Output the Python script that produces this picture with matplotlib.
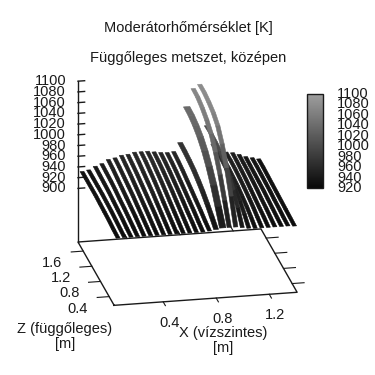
import numpy as np
import matplotlib
matplotlib.use('Agg')
import matplotlib.pyplot as plt
from matplotlib.colors import LinearSegmentedColormap, Normalize
from matplotlib.cm import ScalarMappable
from mpl_toolkits.mplot3d import proj3d
from mpl_toolkits.mplot3d.art3d import Poly3DCollection

plt.rcParams['font.family'] = ['Liberation Sans', 'DejaVu Sans']

# data
x_lim = (0.03, 1.41)
z_lim = (0.17, 1.84)
t_lim = (800, 1100)
t_ticks = [900, 920, 940, 960, 980, 1000, 1020, 1040, 1060, 1080, 1100]
x_ticks = [0.4, 0.8, 1.2]
z_ticks = [0.4, 0.8, 1.2, 1.6]
cb_ticks = [920, 940, 960, 980, 1000, 1020, 1040, 1060, 1080, 1100]

z_levels = [0.17, 0.38, 0.59, 0.80, 1.00, 1.21, 1.42, 1.63, 1.84]
strip_x = [0.06, 0.109, 0.159, 0.208, 0.257, 0.307, 0.356, 0.405, 0.454, 0.504,
           0.553, 0.602, 0.652, 0.701, 0.75, 0.799, 0.849, 0.898, 0.947, 0.997,
           1.046, 1.095, 1.145, 1.194, 1.243, 1.293, 1.342, 1.391]
strip_w = [0.0145] * 15 + [0.018, 0.024] + [0.016] * 2 + [0.0145] * 9
strip_t = [
    [925, 926, 928, 929, 930, 931, 931, 931, 931],
    [925, 927, 929, 931, 932, 933, 933, 933, 933],
    [925, 927, 930, 932, 934, 936, 937, 938, 939],
    [925, 928, 931, 934, 936, 939, 941, 942, 943],
    [925, 929, 933, 936, 939, 942, 945, 948, 950],
    [925, 929, 933, 937, 941, 944, 947, 950, 952],
    [925, 929, 934, 938, 942, 946, 950, 953, 956],
    [925, 930, 935, 939, 943, 947, 951, 954, 957],
    [925, 930, 935, 940, 945, 949, 953, 957, 960],
    [925, 930, 935, 940, 945, 950, 954, 958, 960],
    [925, 930, 935, 940, 945, 950, 954, 958, 960],
    [925, 930, 935, 940, 945, 949, 953, 956, 958],
    [925, 930, 934, 939, 943, 947, 951, 954, 956],
    [925, 929, 934, 938, 942, 946, 950, 953, 955],
    [926, 930, 935, 939, 943, 947, 951, 954, 956],
    [928, 938, 947, 955, 961, 966, 969, 971, 972],
    [930, 955, 980, 1000, 1015, 1026, 1033, 1037, 1038],
    [930, 965, 998, 1025, 1045, 1057, 1065, 1070, 1071],
    [930, 972, 1010, 1040, 1060, 1070, 1075, 1078, 1078],
    [928, 950, 968, 982, 992, 998, 1000, 1001, 1000],
    [926, 938, 948, 955, 960, 963, 965, 965, 965],
    [925, 932, 938, 942, 946, 948, 950, 950, 950],
    [925, 930, 935, 939, 942, 945, 947, 948, 948],
    [925, 929, 932, 935, 938, 941, 943, 945, 946],
    [925, 928, 931, 933, 936, 938, 940, 941, 942],
    [925, 927, 929, 931, 933, 934, 935, 936, 937],
    [925, 926, 928, 929, 931, 932, 933, 934, 934],
    [924, 925, 926, 927, 928, 929, 930, 931, 931],
]

SIZE = 375
FS = 10.5
INK = '#1a1a1a'


def px_text(x, y, s, ha='center'):
    fig.text(x / SIZE, 1 - y / SIZE, s, ha=ha, va='center', fontsize=FS, color=INK)


fig = plt.figure(figsize=(3.75, 3.75), dpi=100)
ax = fig.add_axes([0, 0, 1, 1], projection='3d', proj_type='ortho', computed_zorder=False)
ax.set_xlim(x_lim)
ax.set_ylim(z_lim)
ax.set_zlim(t_lim)
ax.view_init(elev=20.7, azim=-101.4)
ax.set_box_aspect((185.7, 181.8, 171))
ax.set_axis_off()


def to_px(x, y, z):
    ax.apply_aspect()
    a, b, _ = proj3d.proj_transform(x, y, z, ax.get_proj())
    p = ax.transData.transform((a, b))
    return p[0], SIZE - p[1]


# move the box so the floor lands where it is in the picture
for i in range(2):
    x0, y0 = to_px(x_lim[0], z_lim[1], t_lim[0])
    x1, y1 = to_px(x_lim[1], z_lim[1], t_lim[0])
    k = (261 - 78) / (x1 - x0)
    pos = ax.get_position(original=True)
    w = pos.width * k
    cx = pos.x0 + pos.width / 2 + (78 - (x0 + (x0 - pos.x0 * SIZE - pos.width * SIZE / 2) * (k - 1))) / SIZE
    cy = pos.y0 + pos.height / 2 - (242 - (y0 + (y0 - (SIZE - pos.y0 * SIZE - pos.height * SIZE / 2)) * (k - 1))) / SIZE
    ax.set_position([cx - w / 2, cy - w / 2, w, w])

cmap = LinearSegmentedColormap.from_list('g', [(0.03, 0.03, 0.03), (0.62, 0.62, 0.62)])
norm = Normalize(920, 1100)

# floor and axes
xa, xb = x_lim
za, zb = z_lim
ta, tb = t_lim
ax.plot([xa, xb, xb, xa, xa], [za, za, zb, zb, za], [ta] * 5, color=INK, lw=1, zorder=1)
ax.plot([xa, xa], [zb, zb], [ta, tb], color=INK, lw=1, zorder=1)
for t in t_ticks:
    ax.plot([xa, xa + 0.05], [zb, zb], [t, t], color=INK, lw=1, zorder=1)
for x in x_ticks:
    ax.plot([x, x], [za, za - 0.1], [ta, ta], color=INK, lw=0.8, zorder=1)
    ax.plot([x, x], [zb, zb + 0.1], [ta, ta], color=INK, lw=0.8, zorder=1)
for z in z_ticks:
    ax.plot([xa, xa - 0.09], [z, z], [ta, ta], color=INK, lw=0.8, zorder=1)
    ax.plot([xb, xb + 0.09], [z, z], [ta, ta], color=INK, lw=0.8, zorder=1)

# ribbons, one quad per z step
polys = []
cols = []
for x, w, row in zip(strip_x, strip_w, strip_t):
    for j in range(len(z_levels) - 1):
        polys.append([(x - w, z_levels[j], row[j]), (x + w, z_levels[j], row[j]),
                      (x + w, z_levels[j + 1], row[j + 1]), (x - w, z_levels[j + 1], row[j + 1])])
        cols.append(cmap(norm((row[j] + row[j + 1]) / 2)))
pc = Poly3DCollection(polys, facecolors=cols, edgecolors=cols, linewidths=0.4, zsort='average', zorder=2)
ax.add_collection3d(pc)

# colorbar
cax = fig.add_axes([307 / SIZE, 1 - 188 / SIZE, 16 / SIZE, 94 / SIZE])
cb = fig.colorbar(ScalarMappable(norm=norm, cmap=cmap), cax=cax)
cb.set_ticks([])
cb.outline.set_linewidth(1)
cb.outline.set_edgecolor(INK)
cax.hlines(cb_ticks, 920, 1100, colors=INK, linewidth=0.6, linestyles=(0, (4, 2)))
cax.set_ylim(920, 1100)

# texts
px_text(188, 28, 'Moderátorhőmérséklet [K]')
px_text(188, 58, 'Függőleges metszet, középen')
for t in t_ticks:
    y = to_px(xa, zb, t)[1]
    px_text(66, y, str(t), ha='right')
for t in cb_ticks:
    px_text(337, 188 - (t - 920) / 180 * 94, str(t), ha='left')
for x in x_ticks:
    p = to_px(x, za, ta)
    px_text(p[0] + 6, p[1] + 21, str(x))
for z in z_ticks:
    p = to_px(xa, z, ta)
    px_text(p[0] - 21, p[1] + 12, str(z), ha='right')
px_text(65, 329, 'Z (függőleges)')
px_text(65, 344, '[m]')
px_text(223, 333, 'X (vízszintes)')
px_text(223, 348, '[m]')

fig.savefig('out.png', dpi=100)
